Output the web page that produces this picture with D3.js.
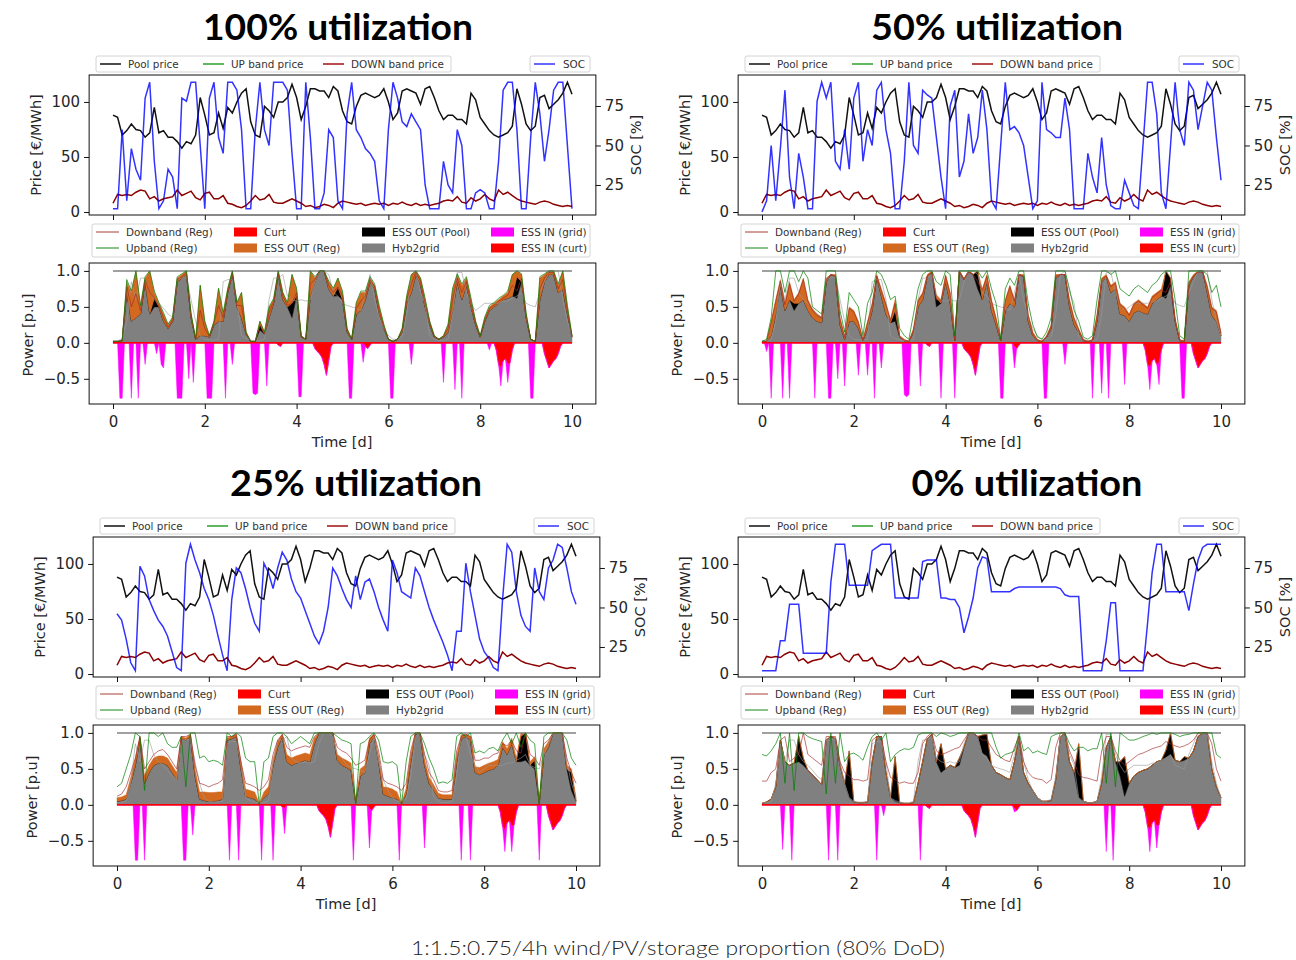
<!DOCTYPE html>
<html>
<head>
<meta charset="utf-8">
<script src="https://cdn.jsdelivr.net/npm/d3@7"></script>
<style>
  body { margin: 0; background: #fff; }
</style>
</head>
<body>
<svg id="chart" width="1296" height="960"></svg>
<script>
// time grid, 0.1 day steps over 10 days
const days = d3.range(101).map(i => i / 10)
// finer grid for the charging spikes (0.05 d)
const fineDays = d3.range(201).map(i => i / 20)

// market prices, shared by all four runs [EUR/MWh]
const poolPrice = [
    88, 86, 70, 74, 80, 75, 74, 68, 72, 95,
    72, 74, 68, 68, 64, 58, 64, 62, 70, 104,
    88, 70, 72, 90, 76, 95, 90, 100, 108, 112,
    82, 70, 68, 96, 92, 86, 100, 100, 104, 116,
    104, 84, 96, 112, 112, 110, 110, 104, 114, 110,
    92, 82, 80, 96, 106, 108, 106, 104, 106, 112,
    100, 84, 90, 110, 112, 110, 108, 98, 112, 114,
    104, 92, 84, 88, 88, 84, 84, 80, 108, 102,
    86, 80, 74, 70, 68, 70, 72, 78, 112, 98,
    80, 74, 78, 104, 106, 94, 98, 102, 108, 118,
    107]
const downPrice = [
    8, 16, 15, 16, 15, 18, 20, 19, 12, 14,
    10, 12, 13, 14, 20, 15, 17, 19, 13, 11,
    17, 18, 12, 12, 15, 8, 7, 5, 4, 6,
    10, 15, 11, 12, 16, 9, 8, 8, 10, 12,
    10, 8, 5, 6, 4, 5, 7, 6, 4, 8,
    10, 9, 8, 7, 8, 6, 7, 8, 7, 8,
    6, 8, 7, 9, 7, 6, 8, 6, 7, 6,
    7, 8, 10, 11, 10, 14, 9, 8, 13, 10,
    12, 16, 12, 10, 20, 16, 18, 15, 12, 10,
    9, 8, 7, 9, 10, 9, 7, 6, 5, 6,
    5]

// state of charge [%]
const soc100 = [
    10, 10, 60, 15, 48, 35, 28, 80, 90, 40,
    10, 15, 35, 30, 10, 80, 78, 90, 90, 50,
    10, 80, 90, 55, 45, 90, 90, 85, 60, 10,
    10, 60, 90, 60, 50, 90, 90, 90, 85, 45,
    10, 10, 90, 55, 10, 10, 20, 60, 55, 15,
    10, 70, 90, 60, 55, 48, 45, 40, 15, 10,
    60, 90, 80, 65, 62, 70, 65, 60, 25, 10,
    10, 10, 40, 25, 20, 60, 50, 10, 10, 20,
    22, 20, 10, 10, 40, 85, 90, 90, 60, 10,
    10, 55, 90, 70, 40, 60, 85, 90, 90, 50,
    10]
const soc50 = [
    8, 15, 50, 15, 48, 85, 30, 10, 45, 30,
    10, 10, 78, 90, 80, 90, 40, 35, 60, 35,
    80, 90, 40, 60, 50, 85, 90, 60, 45, 10,
    10, 40, 90, 50, 45, 85, 82, 80, 55, 30,
    10, 75, 85, 30, 40, 70, 45, 55, 85, 60,
    15, 10, 50, 90, 60, 62, 58, 50, 30, 10,
    15, 90, 60, 58, 55, 55, 80, 60, 10, 10,
    10, 45, 30, 20, 55, 25, 12, 10, 10, 28,
    20, 12, 10, 50, 90, 90, 70, 20, 10, 50,
    90, 60, 50, 90, 85, 60, 75, 90, 85, 55,
    28]
const soc25 = [
    46, 42, 30, 15, 10, 76, 70, 55, 48, 42,
    38, 32, 22, 12, 10, 78, 90, 80, 72, 62,
    55, 45, 32, 20, 10, 55, 75, 72, 62, 50,
    40, 35, 78, 72, 62, 75, 85, 80, 68, 60,
    56, 48, 40, 32, 27, 35, 50, 75, 70, 62,
    55, 50, 70, 55, 66, 68, 60, 50, 42, 35,
    80, 72, 60, 58, 56, 75, 70, 60, 50, 42,
    35, 28, 20, 10, 35, 35, 78, 60, 45, 30,
    22, 18, 12, 10, 55, 90, 85, 60, 45, 38,
    35, 75, 60, 55, 75, 80, 90, 88, 75, 60,
    52]
const soc0 = [
    10, 10, 10, 10, 29, 29, 52, 52, 52, 21,
    21, 21, 21, 21, 21, 66, 90, 90, 90, 64,
    64, 64, 64, 64, 86, 88, 90, 90, 90, 56,
    56, 56, 56, 56, 56, 79, 80, 80, 80, 56,
    56, 55, 55, 50, 34, 44, 56, 75, 82, 81,
    60, 60, 60, 60, 60, 62, 63, 63, 63, 63,
    63, 63, 63, 63, 63, 62, 58, 57, 57, 57,
    10, 10, 10, 10, 10, 29, 53, 53, 10, 10,
    10, 10, 10, 10, 40, 72, 90, 90, 60, 60,
    60, 60, 60, 48, 65, 80, 88, 90, 90, 90,
    90]

// power flows, in hundredths of p.u.
const hyb100 = [
    2, 2, 3, 70, 30, 35, 40, 85, 40, 50,
    50, 30, 20, 30, 85, 90, 95, 35, 5, 10,
    10, 8, 25, 30, 30, 70, 95, 50, 35, 12,
    2, 2, 18, 12, 35, 55, 95, 60, 50, 35,
    65, 8, 5, 65, 85, 100, 100, 75, 65, 65,
    60, 15, 5, 40, 45, 60, 85, 75, 40, 20,
    5, 2, 5, 15, 55, 70, 95, 80, 50, 25,
    8, 5, 8, 15, 45, 85, 60, 80, 50, 25,
    8, 30, 45, 50, 55, 60, 62, 65, 62, 85,
    35, 5, 2, 60, 85, 95, 95, 70, 75, 40,
    8]
const reg100 = [
    0, 0, 0, 15, 40, 65, 10, 5, 60, 8,
    5, 10, 5, 5, 5, 5, 5, 5, 0, 70,
    20, 2, 5, 45, 10, 5, 5, 5, 35, 3,
    0, 0, 4, 3, 15, 5, 5, 10, 5, 40,
    10, 2, 0, 35, 5, 0, 0, 10, 10, 13,
    10, 5, 0, 15, 25, 10, 5, 5, 10, 5,
    0, 0, 0, 5, 10, 25, 5, 10, 10, 5,
    2, 0, 2, 10, 30, 10, 20, 10, 10, 5,
    2, 5, 5, 5, 5, 5, 8, 30, 8, 10,
    5, 0, 0, 30, 10, 5, 5, 10, 25, 10,
    2]
const up100 = [
    2, 2, 3, 88, 72, 100, 52, 92, 100, 72,
    56, 42, 26, 36, 92, 96, 100, 42, 5, 80,
    30, 10, 30, 76, 42, 76, 100, 56, 70, 15,
    2, 2, 30, 15, 50, 62, 100, 70, 56, 95,
    76, 10, 5, 100, 92, 100, 100, 86, 76, 90,
    72, 20, 5, 56, 72, 72, 92, 82, 52, 26,
    5, 2, 5, 20, 66, 95, 100, 90, 62, 30,
    10, 5, 10, 26, 76, 96, 82, 92, 62, 30,
    10, 36, 52, 56, 62, 66, 72, 95, 100, 96,
    42, 5, 2, 92, 96, 100, 100, 82, 100, 52,
    10]
const down100 = [
    2, 2, 3, 78, 50, 68, 45, 88, 70, 62,
    52, 35, 22, 32, 88, 92, 98, 38, 5, 45,
    20, 9, 28, 52, 35, 72, 98, 52, 52, 13,
    2, 2, 24, 13, 42, 58, 98, 65, 52, 55,
    70, 9, 5, 82, 88, 100, 100, 80, 70, 78,
    65, 18, 5, 48, 58, 65, 88, 78, 45, 22,
    5, 2, 5, 18, 60, 82, 98, 85, 55, 28,
    9, 5, 9, 20, 60, 90, 70, 85, 55, 28,
    9, 32, 48, 52, 58, 62, 66, 80, 72, 90,
    38, 5, 2, 75, 90, 98, 98, 75, 88, 45,
    9]

const hyb50 = [
    2, 2, 10, 40, 80, 45, 60, 45, 55, 60,
    45, 35, 30, 28, 85, 95, 92, 25, 5, 30,
    30, 20, 3, 20, 45, 92, 65, 40, 28, 30,
    8, 3, 2, 15, 50, 60, 92, 98, 50, 55,
    85, 55, 3, 100, 88, 100, 95, 75, 60, 85,
    45, 25, 3, 45, 55, 50, 95, 92, 30, 10,
    3, 2, 8, 20, 90, 95, 95, 50, 25, 15,
    3, 2, 3, 30, 85, 92, 70, 75, 40, 38,
    30, 42, 45, 42, 40, 55, 60, 65, 62, 80,
    30, 3, 2, 80, 92, 100, 100, 70, 38, 30,
    10]
const reg50 = [
    0, 0, 20, 20, 8, 10, 25, 5, 15, 30,
    15, 12, 10, 8, 5, 0, 3, 10, 5, 20,
    15, 10, 2, 10, 10, 3, 10, 15, 5, 15,
    2, 2, 0, 5, 10, 10, 3, 2, 5, 5,
    10, 15, 2, 0, 2, 0, 0, 0, 15, 10,
    15, 10, 2, 15, 25, 10, 0, 3, 10, 5,
    2, 0, 2, 5, 5, 0, 0, 10, 10, 5,
    2, 0, 2, 10, 5, 3, 10, 10, 15, 12,
    10, 13, 15, 13, 10, 10, 10, 10, 0, 0,
    5, 2, 0, 5, 3, 0, 0, 10, 12, 15,
    5]
const up50 = [
    2, 5, 35, 100, 100, 70, 100, 100, 85, 100,
    90, 50, 45, 40, 100, 100, 100, 45, 15, 70,
    60, 50, 10, 55, 70, 100, 95, 80, 60, 65,
    20, 10, 5, 40, 75, 95, 100, 100, 85, 80,
    100, 95, 10, 100, 100, 100, 100, 100, 90, 100,
    75, 55, 5, 75, 90, 80, 100, 100, 55, 25,
    8, 5, 15, 35, 100, 100, 100, 75, 45, 30,
    8, 5, 10, 60, 100, 100, 95, 100, 75, 70,
    65, 75, 80, 75, 70, 80, 85, 95, 100, 100,
    60, 10, 5, 100, 100, 100, 100, 95, 70, 80,
    50]
const down50 = [
    2, 2, 28, 58, 86, 53, 82, 58, 68, 88,
    58, 45, 38, 34, 88, 95, 93, 33, 8, 48,
    43, 28, 4, 28, 53, 93, 73, 53, 31, 55,
    9, 4, 2, 18, 58, 68, 93, 98, 60, 58,
    93, 68, 4, 98, 88, 98, 95, 85, 73, 93,
    58, 33, 4, 58, 78, 58, 95, 93, 38, 13,
    4, 2, 9, 23, 93, 95, 95, 58, 33, 18,
    4, 2, 4, 38, 88, 93, 78, 83, 53, 48,
    38, 53, 58, 53, 48, 63, 68, 73, 70, 85,
    33, 4, 2, 83, 93, 98, 98, 78, 48, 43,
    13]

const hyb25 = [
    5, 6, 8, 30, 55, 92, 30, 45, 55, 58,
    58, 55, 45, 35, 92, 90, 95, 40, 8, 6,
    5, 5, 6, 8, 90, 92, 95, 50, 12, 10,
    8, 2, 10, 15, 55, 80, 95, 60, 55, 58,
    60, 62, 60, 85, 100, 100, 100, 100, 62, 55,
    52, 48, 3, 40, 45, 85, 95, 60, 15, 12,
    10, 8, 2, 15, 60, 98, 100, 55, 30, 20,
    10, 8, 8, 8, 60, 92, 95, 90, 45, 42,
    45, 48, 50, 55, 80, 70, 85, 60, 60, 62,
    55, 50, 2, 70, 80, 100, 100, 100, 50, 20,
    5]
const reg25 = [
    5, 5, 6, 8, 10, 3, 10, 10, 10, 10,
    10, 10, 10, 10, 3, 3, 3, 10, 10, 12,
    12, 12, 12, 10, 3, 3, 3, 10, 10, 10,
    10, 0, 8, 10, 8, 8, 3, 10, 10, 10,
    10, 10, 10, 8, 0, 0, 0, 0, 8, 10,
    10, 10, 0, 10, 10, 8, 3, 8, 10, 12,
    12, 10, 0, 8, 10, 2, 0, 8, 8, 8,
    6, 6, 6, 6, 8, 5, 3, 5, 8, 10,
    10, 10, 10, 8, 8, 8, 8, 5, 5, 0,
    5, 5, 0, 8, 8, 0, 0, 0, 5, 5,
    5]
const up25 = [
    25, 30, 50, 70, 100, 95, 20, 100, 100, 95,
    100, 85, 80, 80, 95, 25, 100, 100, 65, 68,
    60, 62, 60, 55, 100, 95, 100, 95, 65, 60,
    60, 0, 60, 65, 95, 100, 100, 95, 85, 90,
    95, 90, 85, 100, 100, 100, 100, 100, 95, 90,
    88, 85, 0, 85, 88, 95, 100, 90, 60, 58,
    60, 55, 0, 60, 95, 100, 100, 85, 65, 50,
    30, 32, 30, 35, 95, 100, 95, 100, 72, 75,
    72, 78, 80, 75, 90, 100, 85, 100, 80, 100,
    90, 85, 0, 95, 100, 100, 100, 100, 90, 65,
    55]
const down25 = [
    12, 15, 25, 45, 65, 95, 50, 60, 70, 75,
    77, 70, 60, 50, 95, 95, 98, 55, 30, 28,
    25, 28, 30, 35, 95, 95, 98, 60, 30, 28,
    25, 20, 25, 35, 70, 90, 98, 80, 75, 78,
    80, 82, 80, 95, 100, 100, 100, 100, 80, 75,
    72, 65, 55, 58, 62, 90, 98, 75, 35, 30,
    28, 25, 20, 30, 75, 100, 100, 70, 45, 35,
    20, 18, 18, 20, 75, 95, 98, 95, 62, 62,
    65, 65, 70, 72, 85, 82, 90, 75, 72, 100,
    70, 65, 55, 85, 90, 100, 100, 100, 65, 45,
    30]

const hyb0 = [
    2, 4, 8, 25, 90, 60, 55, 58, 60, 55,
    48, 42, 35, 28, 90, 95, 92, 55, 30, 10,
    4, 3, 3, 4, 60, 95, 95, 45, 10, 5,
    3, 2, 2, 3, 30, 60, 92, 98, 60, 45,
    50, 55, 52, 55, 80, 100, 100, 95, 72, 68,
    55, 45, 42, 38, 35, 60, 95, 45, 30, 20,
    10, 5, 5, 6, 35, 95, 100, 60, 45, 10,
    5, 3, 3, 5, 30, 80, 95, 60, 40, 12,
    30, 40, 45, 48, 50, 55, 60, 62, 66, 70,
    62, 60, 62, 65, 75, 95, 100, 100, 50, 25,
    10]
const up0 = [
    70, 68, 75, 85, 100, 30, 100, 20, 100, 100,
    95, 92, 90, 88, 15, 100, 30, 100, 60, 70,
    72, 68, 62, 80, 95, 100, 90, 100, 60, 70,
    75, 78, 77, 80, 97, 100, 100, 100, 95, 100,
    98, 95, 97, 100, 100, 100, 100, 100, 100, 100,
    100, 80, 65, 70, 72, 75, 100, 75, 80, 72,
    75, 72, 70, 95, 98, 100, 100, 85, 75, 80,
    80, 75, 78, 78, 100, 30, 100, 25, 100, 95,
    90, 90, 92, 95, 97, 100, 98, 100, 100, 100,
    98, 95, 97, 98, 100, 100, 100, 100, 100, 70,
    65]
const down0 = [
    33, 33, 45, 50, 90, 95, 60, 65, 70, 100,
    70, 65, 60, 55, 95, 95, 95, 60, 45, 40,
    35, 35, 33, 35, 90, 95, 95, 60, 38, 35,
    30, 32, 30, 30, 45, 85, 95, 100, 75, 70,
    72, 75, 78, 80, 90, 100, 100, 95, 90, 90,
    80, 70, 66, 62, 60, 80, 95, 60, 45, 38,
    36, 35, 30, 35, 80, 100, 100, 75, 60, 42,
    38, 37, 35, 33, 75, 95, 95, 75, 62, 55,
    60, 65, 70, 72, 75, 78, 80, 82, 88, 85,
    82, 80, 82, 85, 90, 100, 100, 100, 85, 50,
    33]

// renewable availability (thin grey line), shared
const avail = [
    3, 3, 5, 30, 85, 60, 90, 90, 70, 60,
    55, 48, 40, 35, 90, 90, 92, 60, 30, 10,
    5, 4, 4, 5, 85, 88, 88, 60, 10, 6,
    4, 3, 3, 5, 60, 90, 90, 95, 65, 60,
    58, 60, 58, 60, 85, 100, 100, 95, 70, 65,
    55, 52, 50, 48, 45, 70, 95, 60, 35, 20,
    10, 5, 5, 8, 40, 95, 100, 70, 55, 10,
    5, 3, 3, 5, 40, 98, 98, 70, 55, 45,
    50, 55, 55, 55, 55, 58, 58, 62, 65, 70,
    55, 52, 50, 70, 85, 100, 100, 100, 60, 30,
    10]

// ESS OUT (Pool) discharge events [day, hundredths p.u.]
const pool100 = [[0.9, 12], [3.2, 8], [3.9, 20], [4.9, 12], [8.8, 30]]
const pool50 = [[0.7, 10], [2.9, 15], [3.8, 12], [4.7, 25], [8.8, 38], [8.9, 10]]
const pool25 = [[8.8, 35], [8.9, 38], [9.1, 12], [9.9, 25]]
const pool0 = [[0.8, 35], [0.9, 10], [1.9, 65], [2.9, 62], [3.9, 40], [4.3, 10], [4.8, 25], [4.9, 30],
    [6.9, 75], [7.8, 20], [7.9, 55], [8.8, 10], [8.9, 30], [9.2, 5]]

// ESS IN (grid) charging events [day, hundredths p.u.]
const grid100 = [[0.15, 77], [0.2, 77], [0.4, 77], [0.55, 77], [0.7, 30], [0.95, 15], [1.05, 30], [1.1, 35],
    [1.4, 77], [1.45, 77], [1.5, 77], [1.65, 50], [1.75, 55], [2.05, 77], [2.1, 77], [2.15, 77], [2.45, 77],
    [2.6, 30], [3.05, 70], [3.1, 72], [3.15, 70], [3.35, 60], [4.05, 75], [4.1, 75], [5.15, 77], [5.2, 77],
    [5.45, 27], [6.05, 77], [6.1, 77], [6.5, 30], [7.2, 55], [7.45, 65], [7.6, 77], [8.2, 10], [8.45, 25],
    [8.6, 25], [9.1, 77], [9.15, 77]]
const grid50 = [[0.1, 12], [0.2, 77], [0.45, 77], [0.6, 77], [1.15, 77], [1.45, 77], [1.5, 77], [1.65, 50],
    [1.8, 60], [2.1, 45], [2.3, 45], [2.45, 77], [2.6, 35], [3.1, 72], [3.15, 75], [3.2, 72], [3.45, 60],
    [3.9, 77], [4.2, 77], [5.2, 77], [5.25, 77], [5.5, 30], [6.15, 77], [6.2, 77], [6.6, 30], [7.2, 77],
    [7.4, 70], [7.55, 77], [7.9, 58], [8.45, 30], [8.65, 30], [9.15, 77], [9.2, 77]]
const grid25 = [[0.4, 77], [0.45, 77], [0.6, 77], [1.45, 77], [1.5, 77], [1.65, 42], [2.45, 77], [2.65, 77],
    [3.15, 77], [3.4, 77], [3.65, 35], [5.15, 77], [5.5, 55], [6.15, 77], [6.7, 60], [7.5, 77], [7.7, 77],
    [8.45, 30], [8.6, 35], [9.2, 77]]
const grid0 = [[0.45, 62], [0.65, 77], [1.45, 77], [1.65, 77], [2.5, 77], [2.65, 15], [3.45, 77], [5.5, 5],
    [7.5, 65], [7.65, 77], [8.45, 30], [8.6, 30]]

// ESS IN (curt) charging from curtailed energy, shared
const curtIn = [[3.6, 3], [3.65, 5], [4.4, 8], [4.45, 12], [4.5, 15], [4.55, 20], [4.6, 30], [4.65, 45],
    [4.7, 25], [4.75, 5], [5.5, 5], [5.55, 8], [5.6, 3], [8.35, 10], [8.4, 30], [8.45, 35], [8.5, 25],
    [8.55, 22], [8.6, 30], [8.65, 28], [8.7, 10], [9.4, 15], [9.45, 25], [9.5, 35], [9.55, 30], [9.6, 25],
    [9.65, 22], [9.7, 15], [9.75, 5]]

const capacity = 1

const priceKeys = ['Pool price', 'UP band price', 'DOWN band price']
const priceColors = ['#111', '#2ca02c', '#a01010']
const powerKeys = ['Downband (Reg)', 'Upband (Reg)', 'Curt', 'ESS OUT (Reg)', 'ESS OUT (Pool)', 'Hyb2grid', 'ESS IN (grid)', 'ESS IN (curt)']
const powerColors = ['#b5605a', '#3c9a3c', '#ff0000', '#d2691e', '#000000', '#808080', '#ff00ff', '#ff0000']

const panels = [
    { title: '100% utilization', titleX: 338, titleY: 40, titleW: 270, x0: 113, y0: 0,
      soc: soc100, hyb: hyb100, reg: reg100, pool: pool100, grid: grid100, up: up100, down: down100 },
    { title: '50% utilization', titleX: 997, titleY: 40, titleW: 252, x0: 762, y0: 0,
      soc: soc50, hyb: hyb50, reg: reg50, pool: pool50, grid: grid50, up: up50, down: down50 },
    { title: '25% utilization', titleX: 356, titleY: 496, titleW: 252, x0: 117, y0: 462,
      soc: soc25, hyb: hyb25, reg: reg25, pool: pool25, grid: grid25, up: up25, down: down25 },
    { title: '0% utilization', titleX: 1027, titleY: 496, titleW: 231, x0: 762, y0: 462,
      soc: soc0, hyb: hyb0, reg: null, pool: pool0, grid: grid0, up: up0, down: down0 }
]

const svg = d3.select('#chart')
svg.append('rect').attr('width', 1296).attr('height', 960).attr('fill', '#fff')
const defs = svg.append('defs')

const dayW = 45.9
const font = 'DejaVu Sans, sans-serif'
const tickFont = 15, labelFont = 14.5, legFont = 10.4

function lookup(pairs, t) {
    const m = pairs.find(d => Math.abs(d[0] - t) < 1e-6)
    return m ? m[1] : 0
}

function styleAxis(g) {
    g.select('.domain').remove()
    g.selectAll('.tick line').attr('stroke', '#111').attr('stroke-width', 1)
    g.selectAll('.tick text').attr('font-size', tickFont).attr('font-family', font).attr('fill', '#262626')
}

const minus = d => d < 0 ? '\u2212' + Math.abs(d).toFixed(1) : d.toFixed(1)

panels.forEach((p, k) => drawPanel(p, k))

function drawPanel(p, k) {
    const x = d3.scaleLinear().domain([-0.52, 10.52])
        .range([p.x0 - 0.52 * dayW, p.x0 + 10.52 * dayW])
    const [xl, xr] = x.range()

    const top = { t: p.y0 + 75, b: p.y0 + 215 }
    const bot = { t: p.y0 + 263, b: p.y0 + 404 }
    const yP = d3.scaleLinear().domain([-2.7, 124.5]).range([top.b, top.t])
    const yS = d3.scaleLinear().domain([6, 94.6]).range([top.b, top.t])
    const yW = d3.scaleLinear().domain([-0.85, 1.11]).range([bot.b, bot.t])

    // title
    svg.append('text').text(p.title)
        .attr('x', p.titleX).attr('y', p.titleY)
        .attr('text-anchor', 'middle')
        .attr('font-family', "'Century Gothic', Lato, 'DejaVu Sans', sans-serif")
        .attr('font-weight', 'bold').attr('font-size', 36)
        .attr('textLength', p.titleW).attr('lengthAdjust', 'spacingAndGlyphs')
        .attr('fill', '#000')

    // clip paths
    defs.append('clipPath').attr('id', `ct${k}`).append('rect')
        .attr('x', xl).attr('y', top.t).attr('width', xr - xl).attr('height', top.b - top.t)
    defs.append('clipPath').attr('id', `cb${k}`).append('rect')
        .attr('x', xl).attr('y', bot.t).attr('width', xr - xl).attr('height', bot.b - bot.t)

    // ---- price / SOC axes
    const gTop = svg.append('g').attr('clip-path', `url(#ct${k})`)
    const priceLine = d3.line().x((d, i) => x(days[i])).y(d => yP(d))
    gTop.append('path').datum(poolPrice).attr('d', priceLine)
        .attr('fill', 'none').attr('stroke', priceColors[0]).attr('stroke-width', 1.5)
    gTop.append('path').datum(downPrice).attr('d', priceLine)
        .attr('fill', 'none').attr('stroke', '#8b0000').attr('stroke-width', 1.5)
    gTop.append('path').datum(p.soc)
        .attr('d', d3.line().x((d, i) => x(days[i])).y(d => yS(d)))
        .attr('fill', 'none').attr('stroke', '#0000ff').attr('stroke-opacity', 0.8).attr('stroke-width', 1.5)

    svg.append('rect').attr('x', xl).attr('y', top.t).attr('width', xr - xl).attr('height', top.b - top.t)
        .attr('fill', 'none').attr('stroke', '#111').attr('stroke-width', 1)

    svg.append('g').attr('transform', `translate(${xl},0)`)
        .call(d3.axisLeft(yP).tickValues([0, 50, 100]).tickSize(5).tickPadding(4)).call(styleAxis)
    svg.append('g').attr('transform', `translate(${xr},0)`)
        .call(d3.axisRight(yS).tickValues([25, 50, 75]).tickSize(5).tickPadding(4)).call(styleAxis)
    svg.append('g').attr('transform', `translate(0,${top.b})`)
        .call(d3.axisBottom(x).tickValues([0, 2, 4, 6, 8, 10]).tickSize(5).tickFormat('')).call(styleAxis)

    vLabel('Price [€/MWh]', p.x0 - 77, p.y0 + 145)
    vLabel('SOC [%]', p.x0 + 523, p.y0 + 145)

    // price legend
    const lg1 = svg.append('g')
    lg1.append('rect').attr('x', p.x0 - 17).attr('y', p.y0 + 56).attr('width', 355).attr('height', 16)
        .attr('rx', 2).attr('fill', '#fff').attr('stroke', '#d4d4d4')
    const hx = [-13, 90, 210]
    priceKeys.forEach((name, i) => {
        const cx = p.x0 + hx[i]
        lg1.append('line').attr('x1', cx).attr('x2', cx + 21).attr('y1', p.y0 + 64).attr('y2', p.y0 + 64)
            .attr('stroke', priceColors[i]).attr('stroke-width', 1.5)
        legendText(lg1, name, cx + 28, p.y0 + 64)
    })
    const lg2 = svg.append('g')
    lg2.append('rect').attr('x', p.x0 + 417).attr('y', p.y0 + 56).attr('width', 60).attr('height', 16)
        .attr('rx', 2).attr('fill', '#fff').attr('stroke', '#d4d4d4')
    lg2.append('line').attr('x1', p.x0 + 421).attr('x2', p.x0 + 442).attr('y1', p.y0 + 64).attr('y2', p.y0 + 64)
        .attr('stroke', '#3333ff').attr('stroke-width', 1.5)
    legendText(lg2, 'SOC', p.x0 + 450, p.y0 + 64)

    // ---- power axes
    const gBot = svg.append('g').attr('clip-path', `url(#cb${k})`)

    const posRows = days.map((t, i) => ({
        t,
        hyb: p.hyb[i] / 100,
        pool: lookup(p.pool, t) / 100,
        reg: p.reg ? p.reg[i] / 100 : 0
    }))
    const posSeries = d3.stack().keys(['hyb', 'pool', 'reg'])(posRows)
    const negRows = fineDays.map(t => ({
        t,
        curtIn: -lookup(curtIn, t) / 100,
        grid: -lookup(p.grid, t) / 100
    }))
    const negSeries = d3.stack().keys(['curtIn', 'grid'])(negRows)
    const fill = { hyb: '#808080', pool: '#000000', reg: '#d2691e', curtIn: '#ff0000', grid: '#ff00ff' }

    const area = d3.area().x(d => x(d.data.t)).y0(d => yW(d[0])).y1(d => yW(d[1]))
    gBot.selectAll('.pos').data(posSeries).join('path').attr('class', 'pos')
        .attr('d', area).attr('fill', d => fill[d.key])
        .attr('stroke', d => fill[d.key]).attr('stroke-width', 0.5)
    gBot.selectAll('.neg').data(negSeries).join('path').attr('class', 'neg')
        .attr('d', area).attr('fill', d => fill[d.key])
        .attr('stroke', d => fill[d.key]).attr('stroke-width', 0.5)

    const flat = d3.line().x(d => x(d[0])).y(d => yW(d[1]))
    gBot.append('path').datum([[0, 0], [10, 0]]).attr('d', flat)
        .attr('stroke', '#ff0000').attr('stroke-width', 1.5)

    const pLine = d3.line().x((d, i) => x(days[i])).y(d => yW(d / 100))
    gBot.append('path').datum(avail).attr('d', pLine)
        .attr('fill', 'none').attr('stroke', '#9a9a9a').attr('stroke-opacity', 0.6).attr('stroke-width', 1)
    gBot.append('path').datum([[0, capacity], [10, capacity]]).attr('d', flat)
        .attr('stroke', '#808080').attr('stroke-width', 1.5)
    gBot.append('path').datum(p.down).attr('d', pLine)
        .attr('fill', 'none').attr('stroke', '#a52a2a').attr('stroke-opacity', 0.65).attr('stroke-width', 1)
    gBot.append('path').datum(p.up).attr('d', pLine)
        .attr('fill', 'none').attr('stroke', '#008000').attr('stroke-opacity', 0.7).attr('stroke-width', 1)

    svg.append('rect').attr('x', xl).attr('y', bot.t).attr('width', xr - xl).attr('height', bot.b - bot.t)
        .attr('fill', 'none').attr('stroke', '#111').attr('stroke-width', 1)

    svg.append('g').attr('transform', `translate(${xl},0)`)
        .call(d3.axisLeft(yW).tickValues([-0.5, 0, 0.5, 1]).tickFormat(minus).tickSize(5).tickPadding(4))
        .call(styleAxis)
    svg.append('g').attr('transform', `translate(0,${bot.b})`)
        .call(d3.axisBottom(x).tickValues([0, 2, 4, 6, 8, 10]).tickSize(5).tickPadding(7))
        .call(styleAxis)

    vLabel('Power [p.u]', p.x0 - 85, p.y0 + 335)
    svg.append('text').text('Time [d]')
        .attr('x', p.x0 + 229).attr('y', p.y0 + 447)
        .attr('text-anchor', 'middle').attr('font-family', font)
        .attr('font-size', labelFont).attr('fill', '#262626')

    // power legend, 4 columns x 2 rows
    const lg3 = svg.append('g')
    lg3.append('rect').attr('x', p.x0 - 21).attr('y', p.y0 + 224).attr('width', 498).attr('height', 33)
        .attr('rx', 2).attr('fill', '#fff').attr('stroke', '#d4d4d4')
    const colX = [-17, 121, 249, 378]
    powerKeys.forEach((name, i) => {
        const cx = p.x0 + colX[Math.floor(i / 2)]
        const cy = p.y0 + (i % 2 === 0 ? 232 : 248)
        if (i < 2) {
            lg3.append('line').attr('x1', cx).attr('x2', cx + 23).attr('y1', cy).attr('y2', cy)
                .attr('stroke', powerColors[i]).attr('stroke-width', 1.2)
        } else {
            lg3.append('rect').attr('x', cx).attr('y', cy - 4.5).attr('width', 23).attr('height', 9)
                .attr('fill', powerColors[i])
        }
        legendText(lg3, name, cx + 30, cy)
    })
}

function vLabel(txt, cx, cy) {
    svg.append('text').text(txt)
        .attr('transform', `translate(${cx},${cy}) rotate(-90)`)
        .attr('text-anchor', 'middle').attr('dy', '0.35em')
        .attr('font-family', font).attr('font-size', labelFont).attr('fill', '#262626')
}

function legendText(g, txt, x, y) {
    g.append('text').text(txt).attr('x', x).attr('y', y).attr('dy', '0.35em')
        .attr('font-family', font).attr('font-size', legFont).attr('fill', '#333')
}

svg.append('text').text('1:1.5:0.75/4h wind/PV/storage proportion (80% DoD)')
    .attr('x', 678).attr('y', 955).attr('text-anchor', 'middle')
    .attr('font-family', "'Century Gothic', Lato, 'DejaVu Sans', sans-serif")
    .attr('font-weight', 300).attr('font-size', 20)
    .attr('textLength', 534).attr('lengthAdjust', 'spacingAndGlyphs')
    .attr('fill', '#222')
</script>
</body>
</html>
